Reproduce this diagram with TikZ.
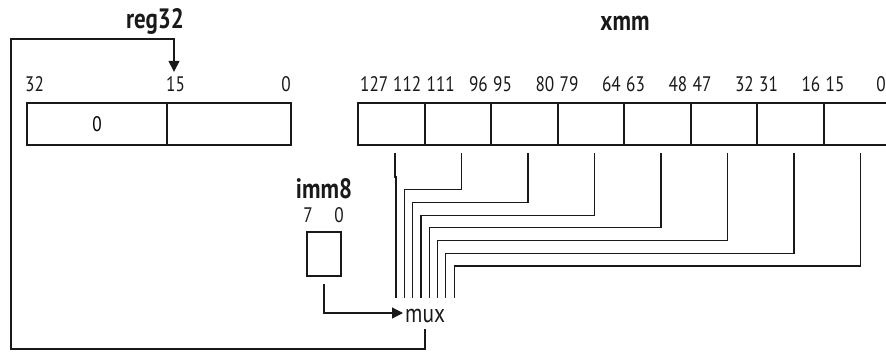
\documentclass[tikz,border=0pt]{standalone}
\usepackage{fontspec}
\setmainfont{PT Sans}[FakeStretch=0.82]
\usepackage{tikz}
\usetikzlibrary{arrows.meta, positioning, calc}
\definecolor{mydark}{RGB}{25,25,25}
\tikzset{
  cell/.style={rectangle, draw=mydark, line width=2pt, minimum width=66.5pt,
    minimum height=42pt, inner sep=0pt, font=\fontsize{21}{23}\selectfont},
  immcell/.style={rectangle, draw=mydark, line width=2pt, minimum width=34pt,
    minimum height=44pt, inner sep=0pt},
  bitlabel/.style={inner sep=0pt, font=\fontsize{21}{23}\selectfont, color=mydark},
  titlelabel/.style={inner sep=0pt, font=\fontsize{28}{30}\selectfont\bfseries, color=mydark},
  muxlabel/.style={inner sep=0pt, font=\fontsize{26}{28}\selectfont, color=mydark},
  wire/.style={line width=1.2pt, color=mydark},
  arrow/.style={-{Triangle[length=11pt,width=11pt]}, line width=1.2pt, color=mydark}
}

\begin{document}
\begin{tikzpicture}[x=1pt,y=-1pt]
  \useasboundingbox (0,0) rectangle (886,351);
  % reg32
  \node[cell, minimum width=140pt] (reghi) at (97,124) {0};
  \node[cell, minimum width=124pt] (reglo) at (229,124) {};
  \node[titlelabel, anchor=base] (regname) at (155,28) {reg32};
  \node[bitlabel, anchor=base west] (b32) at ([xshift=-1pt,yshift=11pt]reghi.north west) {32};
  \node[bitlabel, anchor=base west] (b15) at ([yshift=11pt]reglo.north west) {15};
  \node[bitlabel, anchor=base east] (b0) at ([xshift=-1pt,yshift=11pt]reglo.north east) {0};
  % xmm
  \foreach \i/\hb/\lb in {0/127/112, 1/111/96, 2/95/80, 3/79/64,
                          4/63/48, 5/47/32, 6/31/16}{
    \node[cell] (x\i) at ({391.25+66.5*\i},124) {};
    \node[bitlabel, anchor=base west] (hi\i) at ([xshift=3pt,yshift=11pt]x\i.north west) {\hb};
    \node[bitlabel, anchor=base east] (lo\i) at ([xshift=-4pt,yshift=11pt]x\i.north east) {\lb};
  }
  \node[cell] (x7) at ({391.25+66.5*7},124) {};
  \node[bitlabel, anchor=base west] (hi7) at ([xshift=3pt,yshift=11pt]x7.north west) {15};
  \node[bitlabel, anchor=base east] (lo7) at ([yshift=11pt]x7.north -| 886,0) {0};
  \node[titlelabel, anchor=base] (xmmname) at (625,30) {xmm};
  % imm8
  \node[immcell] (imm) at (324,254) {};
  \node[titlelabel, anchor=base] (immname) at (324,198) {imm8};
  \node[bitlabel, anchor=base] (i7) at ([xshift=2pt,yshift=9pt]imm.north west) {7};
  \node[bitlabel, anchor=base] (i0) at ([xshift=-3pt,yshift=9pt]imm.north east) {0};
  % mux
  \node[muxlabel, anchor=west] (mux) at (405,316) {mux};
  \coordinate (muxin) at (396,298);
  \foreach \i in {0,...,7}{
    \coordinate (in\i) at ([xshift={8.3pt*\i}]muxin);
    \draw[wire] ([xshift=38pt,yshift=-7pt]x\i.south west) -- ++(0,{24+12.7*\i}) -| (in\i);
  }
  \draw[arrow] ([yshift=-7pt]imm.south) |- ([xshift=-2pt,yshift=3pt]mux.west);
  % feedback to reg32
  \coordinate (loopbl) at (11,349);
  \coordinate (regtap) at (174,39);
  \draw[arrow, shorten >=4pt] ([yshift=-6pt]mux.south) |- (loopbl) |- (regtap) -- (regtap |- b15.north);
\end{tikzpicture}
\end{document}
